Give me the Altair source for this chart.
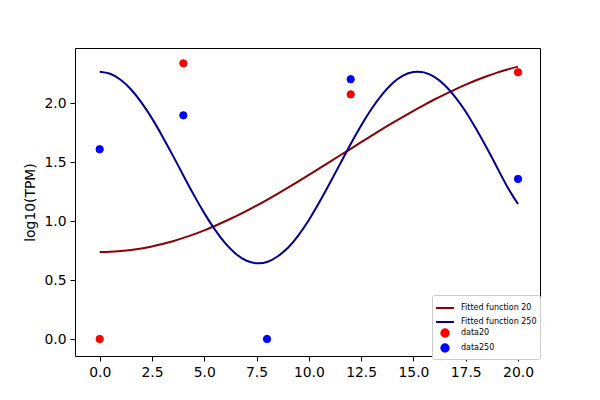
import altair as alt
import pandas as pd

# Fitted curves
fit_x = [0, 0.5, 1, 1.5, 2, 2.5, 3, 3.5, 4, 4.5, 5, 5.5, 6, 6.5, 7, 7.5, 8, 8.5, 9, 9.5,
         10, 10.5, 11, 11.5, 12, 12.5, 13, 13.5, 14, 14.5, 15, 15.5, 16, 16.5, 17, 17.5,
         18, 18.5, 19, 19.5, 20]
fit20 = [0.738, 0.740, 0.746, 0.755, 0.768, 0.785, 0.806, 0.830, 0.858, 0.888,
         0.922, 0.959, 0.999, 1.041, 1.085, 1.132, 1.181, 1.232, 1.284, 1.337,
         1.392, 1.447, 1.503, 1.559, 1.614, 1.670, 1.725, 1.780, 1.833, 1.885,
         1.936, 1.985, 2.032, 2.076, 2.118, 2.158, 2.195, 2.229, 2.260, 2.287, 2.311]
fit250 = [2.268, 2.251, 2.200, 2.117, 2.006, 1.872, 1.719, 1.556, 1.388, 1.223,
          1.068, 0.930, 0.813, 0.724, 0.666, 0.643, 0.653, 0.700, 0.774, 0.880,
          1.010, 1.160, 1.321, 1.488, 1.655, 1.812, 1.954, 2.074, 2.170, 2.234,
          2.265, 2.262, 2.224, 2.153, 2.053, 1.928, 1.781, 1.622, 1.455, 1.288, 1.145]

# Observed data
d20_x = [0, 4, 12, 20]
d20_y = [0.0, 2.339, 2.076, 2.263]
d250_x = [0, 4, 8, 12, 20]
d250_y = [1.610, 1.898, 0.0, 2.204, 1.358]

series_names = ["Fitted function 20", "Fitted function 250", "data20", "data250"]
stroke_colors = ["#8b0000", "#00008b", "#ff0000", "#0000ff"]
fill_colors = ["transparent", "transparent", "#ff0000", "#0000ff"]
shapes = ["stroke", "stroke", "circle", "circle"]
sizes = [320, 320, 54, 54]
x_ticks = [0, 2.5, 5, 7.5, 10, 12.5, 15, 17.5, 20]
y_ticks = [0, 0.5, 1.0, 1.5, 2.0]

lines_df = pd.concat([
    pd.DataFrame({"x": fit_x, "y": fit20, "series": series_names[0]}),
    pd.DataFrame({"x": fit_x, "y": fit250, "series": series_names[1]}),
])
pts_df = pd.concat([
    pd.DataFrame({"x": d20_x, "y": d20_y, "series": series_names[2]}),
    pd.DataFrame({"x": d250_x, "y": d250_y, "series": series_names[3]}),
])

xs = alt.X("x:Q", scale=alt.Scale(domain=[-1.18, 21.05], nice=False, zero=False),
           axis=alt.Axis(values=x_ticks, format=".1f", title=None))
ys = alt.Y("y:Q", scale=alt.Scale(domain=[-0.144, 2.469], nice=False, zero=False),
           axis=alt.Axis(values=y_ticks, format=".1f", title="log10(TPM)"))

leg = alt.Legend(
    orient="none", legendX=357, legendY=247, title=None,
    labelFontSize=8, labelFont="DejaVu Sans", labelColor="black",
    labelOffset=6, rowPadding=-1, padding=3, symbolStrokeWidth=2,
    strokeColor="#cccccc", fillColor="white", cornerRadius=2,
)

stroke_enc = alt.Stroke("series:N", sort=series_names,
                        scale=alt.Scale(domain=series_names, range=stroke_colors), legend=leg)
fill_enc = alt.Fill("series:N", sort=series_names,
                    scale=alt.Scale(domain=series_names, range=fill_colors), legend=leg)
shape_enc = alt.Shape("series:N", sort=series_names,
                      scale=alt.Scale(domain=series_names, range=shapes), legend=leg)
size_enc = alt.Size("series:N", sort=series_names,
                    scale=alt.Scale(type="ordinal", domain=series_names, range=sizes), legend=leg)

lines = alt.Chart(lines_df).mark_line(strokeWidth=2, interpolate="natural").encode(
    x=xs, y=ys, stroke=stroke_enc, detail="series:N")
points = alt.Chart(pts_df).mark_point(filled=True, strokeWidth=1, opacity=1).encode(
    x=xs, y=ys, stroke=stroke_enc, fill=fill_enc, shape=shape_enc, size=size_enc)

chart = alt.layer(lines, points).properties(
    width=465, height=308,
    autosize="none",
    padding={"left": 67, "top": 40, "right": 52, "bottom": 36},
).configure_view(stroke="black", strokeWidth=1).configure_axis(
    domain=False, grid=False, tickColor="black", tickSize=5, tickWidth=1,
    labelColor="black", labelFont="DejaVu Sans", labelFontSize=13.9, labelPadding=4,
    titleColor="black", titleFont="DejaVu Sans", titleFontSize=13.9,
    titleFontWeight="normal", titlePadding=6,
)

chart.save("out.html", embed_options={"renderer": "svg", "actions": False})
